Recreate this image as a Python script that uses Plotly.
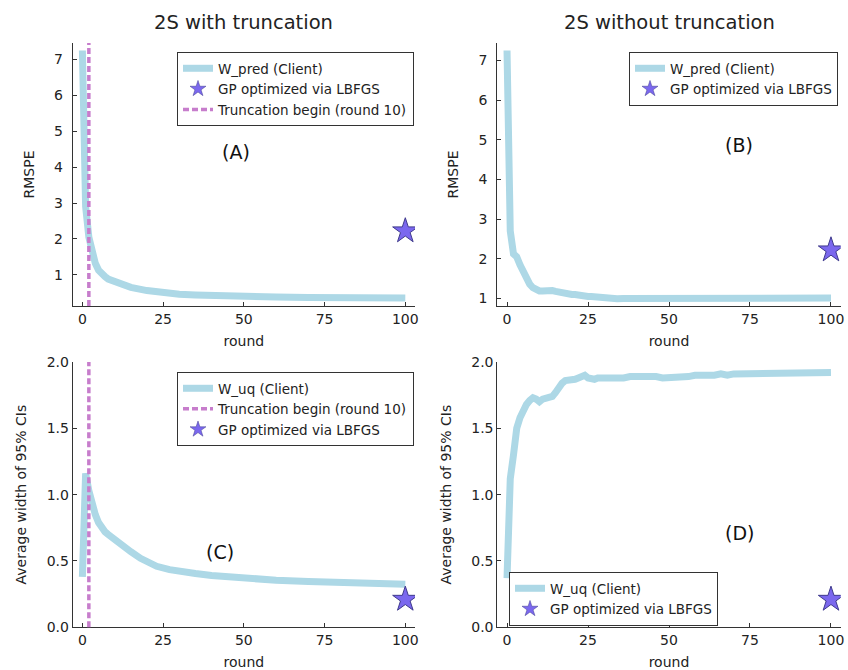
import plotly.graph_objects as go

# ---------------- data ----------------
a_rounds = [0, 1, 2, 3, 4, 5, 6, 7, 8, 10, 12, 15, 20, 25, 30, 35, 40, 50, 60, 70, 80, 90, 100]
a_rmspe = [7.25, 2.9, 2.05, 1.6, 1.32, 1.13, 1.02, 0.95, 0.88, 0.8, 0.73, 0.65, 0.56, 0.5,
           0.46, 0.44, 0.42, 0.4, 0.38, 0.37, 0.36, 0.355, 0.35]

b_rounds = [0, 1, 2, 3, 4, 5, 6, 7, 8, 9, 10, 11, 12, 13, 14, 15, 16, 17, 18, 19, 20, 21, 22, 23,
            24, 25, 26, 27, 28, 29, 30, 32, 34, 36, 38, 40, 42, 44, 46, 48, 50, 52, 54, 56, 58,
            60, 62, 64, 66, 68, 70, 72, 74, 76, 78, 80, 82, 84, 86, 88, 90, 92, 94, 96, 98, 100]
b_rmspe = [7.25, 2.7, 2.12, 2.05, 1.85, 1.65, 1.48, 1.36, 1.27, 1.21, 1.19, 1.19, 1.2, 1.21,
           1.2, 1.18, 1.16, 1.13, 1.11, 1.11, 1.1, 1.1, 1.08, 1.06, 1.05, 1.05, 1.05, 1.04,
           1.02, 1.0, 0.99, 1.0, 0.99, 1.0, 1.0, 1.02, 1.03, 1.03, 1.04, 1.04, 1.04, 1.03, 1.04,
           1.03, 1.04, 1.03, 1.04, 1.04, 1.04, 1.03, 1.03, 1.02, 1.03, 1.02, 1.02, 1.03, 1.02,
           1.02, 1.01, 1.02, 1.01, 1.02, 1.01, 1.01, 1.01, 1.01]

c_rounds = [0, 1, 2, 3, 4, 5, 6, 7, 8, 10, 12, 15, 18, 20, 23, 27, 30, 35, 40, 45, 50, 60, 70,
            80, 90, 100]
c_width = [0.38, 1.16, 1.03, 0.93, 0.85, 0.79, 0.75, 0.72, 0.7, 0.66, 0.62, 0.57, 0.52, 0.5,
           0.46, 0.435, 0.42, 0.405, 0.39, 0.38, 0.37, 0.355, 0.345, 0.337, 0.33, 0.325]

d_rounds = [0, 1, 2, 3, 4, 5, 6, 7, 8, 9, 10, 11, 12, 13, 14, 15, 16, 17, 18, 19, 20, 21, 22,
            23, 24, 25, 26, 27, 28, 29, 30, 32, 34, 36, 38, 40, 42, 44, 46, 48, 50, 52, 54, 56,
            58, 60, 62, 64, 66, 68, 70, 72, 74, 76, 78, 80, 82, 84, 86, 88, 90, 92, 94, 96, 98, 100]
d_width = [0.37, 1.12, 1.3, 1.5, 1.58, 1.64, 1.68, 1.71, 1.73, 1.72, 1.7, 1.72, 1.73, 1.73,
           1.74, 1.77, 1.81, 1.84, 1.86, 1.86, 1.87, 1.87, 1.88, 1.89, 1.9, 1.88, 1.87, 1.87,
           1.88, 1.88, 1.88, 1.87, 1.88, 1.88, 1.89, 1.89, 1.89, 1.9, 1.89, 1.88, 1.88, 1.89,
           1.89, 1.89, 1.9, 1.9, 1.89, 1.9, 1.91, 1.9, 1.91, 1.91, 1.91, 1.91, 1.91, 1.91,
           1.915, 1.915, 1.915, 1.915, 1.915, 1.92, 1.92, 1.92, 1.92, 1.92]

gp_round = [100]
gp_rmspe = [2.22]
gp_width = [0.21]
truncation_round = 2

x_ticks = [0, 25, 50, 75, 100]
rmspe_ticks = [1, 2, 3, 4, 5, 6, 7]
width_ticks = [0.0, 0.5, 1.0, 1.5, 2.0]

# ---------------- styles ----------------
W, H = 848, 670
LINE_COLOR = "#ADD8E6"
STAR_FILL = "#7B68EE"
STAR_EDGE = "#3F3A8C"
TRUNC_COLOR = "#C77DCC"
AX_COLOR = "#333333"
TXT = "#222222"
FONT = "DejaVu Sans"


def px_x(p):
    return p / W


def px_y(p):
    return 1 - p / H


fig = go.Figure()

panels = {
    "A": dict(xa="x", ya="y", leg="legend", dom_x=(72.7, 415.0), dom_y=(43, 306)),
    "B": dict(xa="x2", ya="y2", leg="legend2", dom_x=(497.3, 840.7), dom_y=(43, 306)),
    "C": dict(xa="x3", ya="y3", leg="legend3", dom_x=(72.7, 415.0), dom_y=(362, 627.3)),
    "D": dict(xa="x4", ya="y4", leg="legend4", dom_x=(497.3, 840.7), dom_y=(362, 627.3)),
}


def line_trace(x, y, name, p):
    return go.Scatter(x=x, y=y, mode="lines", name=name,
                      line=dict(color=LINE_COLOR, width=7),
                      xaxis=p["xa"], yaxis=p["ya"], legend=p["leg"])


def star_trace(x, y, p):
    return go.Scatter(x=x, y=y, mode="markers", name="GP optimized via LBFGS",
                      showlegend=False,
                      marker=dict(symbol="star", size=19, color=STAR_FILL,
                                  line=dict(color=STAR_EDGE, width=1)),
                      xaxis=p["xa"], yaxis=p["ya"], legend=p["leg"])


def star_legend(p):
    return go.Scatter(x=[None], y=[None], mode="markers", name="GP optimized via LBFGS",
                      marker=dict(symbol="star", size=12, color=STAR_FILL,
                                  line=dict(color=STAR_EDGE, width=0.5)),
                      xaxis=p["xa"], yaxis=p["ya"], legend=p["leg"])


def trunc_legend(p):
    return go.Scatter(x=[None], y=[None], mode="lines", name="Truncation begin (round 10)",
                      line=dict(color=TRUNC_COLOR, width=3.5, dash="6px,3px"),
                      xaxis=p["xa"], yaxis=p["ya"], legend=p["leg"])


pA, pB, pC, pD = panels["A"], panels["B"], panels["C"], panels["D"]
fig.add_trace(line_trace(a_rounds, a_rmspe, "W_pred (Client)", pA))
fig.add_trace(star_legend(pA))
fig.add_trace(trunc_legend(pA))
fig.add_trace(star_trace(gp_round, gp_rmspe, pA))

fig.add_trace(line_trace(b_rounds, b_rmspe, "W_pred (Client)", pB))
fig.add_trace(star_legend(pB))
fig.add_trace(star_trace(gp_round, gp_rmspe, pB))

fig.add_trace(line_trace(c_rounds, c_width, "W_uq (Client)", pC))
fig.add_trace(trunc_legend(pC))
fig.add_trace(star_legend(pC))
fig.add_trace(star_trace(gp_round, gp_width, pC))

fig.add_trace(line_trace(d_rounds, d_width, "W_uq (Client)", pD))
fig.add_trace(star_legend(pD))
fig.add_trace(star_trace(gp_round, gp_width, pD))

# truncation vertical lines
for p in (pA, pC):
    fig.add_shape(type="line", x0=truncation_round, x1=truncation_round, y0=0, y1=1,
                  xref=p["xa"], yref=p["ya"] + " domain",
                  line=dict(color=TRUNC_COLOR, width=3.5, dash="6px,3px"))

axis_common = dict(showgrid=False, zeroline=False, showline=True, linecolor=AX_COLOR,
                   linewidth=1, ticks="inside", ticklen=4, tickcolor=AX_COLOR,
                   tickfont=dict(family=FONT, size=14, color=TXT), mirror=False,
                   automargin=False)

yranges = {"A": [0.13, 7.46], "B": [0.81, 7.44], "C": [0, 2], "D": [0, 2]}
ytitles = {"A": "RMSPE", "B": "RMSPE", "C": "Average width of 95% CIs",
           "D": "Average width of 95% CIs"}
yticks = {"A": rmspe_ticks, "B": rmspe_ticks, "C": width_ticks, "D": width_ticks}

layout = {}
for key, p in panels.items():
    xname = "xaxis" if p["xa"] == "x" else "xaxis" + p["xa"][1:]
    yname = "yaxis" if p["ya"] == "y" else "yaxis" + p["ya"][1:]
    layout[xname] = dict(axis_common, domain=[px_x(p["dom_x"][0]), px_x(p["dom_x"][1])],
                         range=[-3, 103], tickvals=x_ticks, anchor=p["ya"],
                         title=dict(text="round", font=dict(family=FONT, size=14, color=TXT),
                                    standoff=10))
    yd = dict(axis_common, domain=[px_y(p["dom_y"][1]), px_y(p["dom_y"][0])],
              range=yranges[key], tickvals=yticks[key], anchor=p["xa"],
              title=dict(text=ytitles[key], font=dict(family=FONT, size=14, color=TXT),
                         standoff=16))
    if key in ("C", "D"):
        yd["tickformat"] = ".1f"
    else:
        yd["ticklabelstandoff"] = 6
    layout[yname] = yd

leg_common = dict(bgcolor="white", bordercolor=AX_COLOR, borderwidth=1,
                  font=dict(family=FONT, size=13.5, color=TXT),
                  xanchor="left", yanchor="top", tracegroupgap=0, itemwidth=30)
layout["legend"] = dict(leg_common, x=px_x(177), y=px_y(52))
layout["legend2"] = dict(leg_common, x=px_x(629), y=px_y(52))
layout["legend3"] = dict(leg_common, x=px_x(177), y=px_y(372))
layout["legend4"] = dict(leg_common, x=px_x(509), y=px_y(572))

fig.update_layout(**layout)

annotations = [
    dict(text="2S with truncation", x=(72.7 + 415) / 2 / W, y=px_y(23), xref="paper",
         yref="paper", xanchor="center", yanchor="middle", showarrow=False,
         font=dict(family=FONT, size=19.5, color=TXT)),
    dict(text="2S without truncation", x=(497.3 + 840.7) / 2 / W, y=px_y(23), xref="paper",
         yref="paper", xanchor="center", yanchor="middle", showarrow=False,
         font=dict(family=FONT, size=19.5, color=TXT)),
]
letters = [("(A)", "A", 0.477, 0.586), ("(B)", "B", 0.704, 0.612),
           ("(C)", "C", 0.43, 0.284), ("(D)", "D", 0.704, 0.355)]
for txt, key, fx, fy in letters:
    p = panels[key]
    annotations.append(dict(text=txt, x=fx, y=fy, xref=p["xa"] + " domain",
                            yref=p["ya"] + " domain", xanchor="center", yanchor="middle",
                            showarrow=False, font=dict(family=FONT, size=19, color="#111")))

fig.update_layout(annotations=annotations, width=W, height=H, autosize=False,
                  margin=dict(l=0, r=0, t=0, b=0, pad=0), plot_bgcolor="white",
                  paper_bgcolor="white", showlegend=True)

fig.write_html("out.html", config={"displayModeBar": False},
               post_script="document.body.style.margin='0';")
